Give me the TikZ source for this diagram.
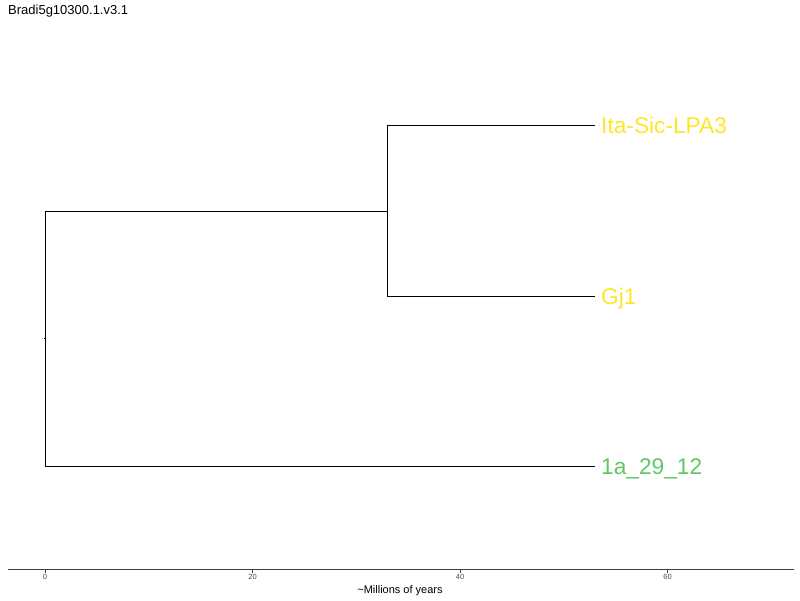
\documentclass[tikz,border=0pt]{standalone}
\usepackage{fontspec}
\setmainfont{Liberation Sans}
\definecolor{vyellow}{HTML}{FDE725}
\definecolor{vgreen}{HTML}{5DC863}
\definecolor{axgray}{HTML}{4D4D4D}
\begin{document}
\begin{tikzpicture}[x=1pt,y=-1pt,
  branch/.style={draw=black,line width=0.8pt},
  tiplab/.style={anchor=base west,inner sep=0pt,font=\fontsize{22.7}{22.7}\selectfont},
  ticklab/.style={anchor=north,inner sep=0pt,text=axgray,font=\fontsize{7.5}{7.5}\selectfont},
  axline/.style={draw=axgray!80!black,line width=1pt}]
\useasboundingbox (0,0) rectangle (800,600);
% title
\node[anchor=base west,inner sep=0pt,font=\fontsize{13}{13}\selectfont] (title) at (8,14) {Bradi5g10300.1.v3.1};
% tree coordinates
\coordinate (root) at (45,338);
\coordinate (rootl) at (44,338);
\coordinate (r1) at (45,211);
\coordinate (r2) at (45,466);
\coordinate (n1) at (387,211);
\coordinate (n1t) at (387,125);
\coordinate (n1b) at (387,296);
\coordinate (t1) at (595,125);
\coordinate (t2) at (595,296);
\coordinate (t3) at (595,466);
\draw[branch] (rootl) -- (root);
\draw[branch] (r1) -- (r2);
\draw[branch] (r1) -- (n1);
\draw[branch] (r2) -- (t3);
\draw[branch] (n1t) -- (n1b);
\draw[branch] (n1t) -- (t1);
\draw[branch] (n1b) -- (t2);
% tip labels
\node[tiplab,text=vyellow] (L1) at (601,133) {Ita-Sic-LPA3};
\node[tiplab,text=vyellow] (L2) at (601,304) {Gj1};
\node[tiplab,text=vgreen] (L3) at (601,474) {1a\_29\_12};
% axis
\coordinate (axl) at (8,569);
\coordinate (axr) at (794,569);
\draw[axline] (axl) -- (axr);
\foreach \v/\x in {0/45,20/252.5,40/460,60/667.5}{
  \coordinate (tk\v) at (\x,569);
  \coordinate (tkb\v) at (\x,573);
  \draw[axline,line width=0.6pt] (tk\v) -- (tkb\v);
  \node[ticklab] (lab\v) at (\x,574) {\v};
}
\node[anchor=base,inner sep=0pt,font=\fontsize{11}{11}\selectfont] (axtitle) at (400,593) {\textasciitilde Millions of years};
\end{tikzpicture}
\end{document}
